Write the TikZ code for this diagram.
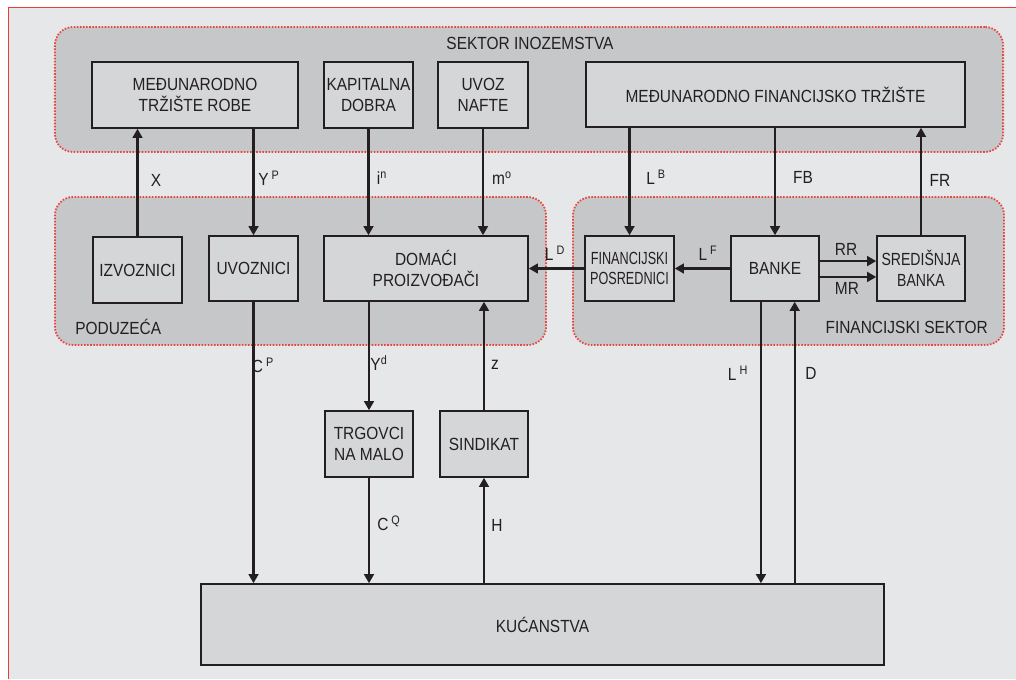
\documentclass[tikz,border=0pt]{standalone}
\usepackage{fontspec}
\setmainfont{Liberation Sans}[FakeStretch=0.88]
\newfontfamily\narrowsans{Liberation Sans}[FakeStretch=0.72]
\newfontfamily\semisans{Liberation Sans}[FakeStretch=0.8]
\usepackage{tikz}
\usetikzlibrary{arrows.meta}
\definecolor{ink}{HTML}{231F20}
\definecolor{pagegray}{HTML}{E6E7E9}
\definecolor{secgray}{HTML}{C6C7C9}
\definecolor{cellgray}{HTML}{D5D6D8}
\definecolor{dotred}{HTML}{E8463F}
\definecolor{framered}{HTML}{EE3B33}
\tikzstyle{sector} = [fill=secgray, draw=dotred, line width=1.3pt, dash pattern=on 1.1pt off 1.1pt, rounded corners=13pt, inner sep=0pt]
\tikzstyle{box} = [draw=ink, fill=cellgray, line width=1.1pt, align=center, inner sep=0pt, text=ink]
\tikzstyle{lab} = [text=ink, inner sep=0pt]
\tikzstyle{flow} = [draw=ink, line width=1.5pt, -{Triangle[length=6.5pt,width=7pt]}]

\begin{document}
\begin{tikzpicture}[x=0.025cm, y=-0.025cm, every node/.style={font=\fontsize{12.5}{14.5}\selectfont}]
    \useasboundingbox (0,0) rectangle (1016,679);
    \fill[white] (0,0) rectangle (1016,679);
    \fill[pagegray] (8.5,7.5) rectangle (1016,679);
    \draw[framered, line width=1.4pt] (8.5,679) -- (8.5,7.5) -- (1016,7.5);

    \node[sector, minimum width=23.7cm, minimum height=3.125cm](ino) at (529,89.5){};
    \node[sector, minimum width=12.275cm, minimum height=3.7cm](pod) at (300.5,271){};
    \node[sector, minimum width=10.775cm, minimum height=3.7cm](fin) at (788.5,271){};
    \node[lab](tino) at (530,43){SEKTOR INOZEMSTVA};
    \node[lab, anchor=west](tpod) at (75,327){PODUZEĆA};
    \node[lab, anchor=east](tfin) at (988,327){FINANCIJSKI SEKTOR};

    \node[box, minimum width=5.15cm, minimum height=1.65cm](mtr) at (195,95){MEĐUNARODNO\\TRŽIŠTE ROBE};
    \node[box, minimum width=2.225cm, minimum height=1.65cm](kd) at (368.5,95){KAPITALNA\\DOBRA};
    \node[box, minimum width=2.25cm, minimum height=1.65cm](nafta) at (483,95){UVOZ\\NAFTE};
    \node[box, minimum width=9.475cm, minimum height=1.625cm](mft) at (775.5,94.5){MEĐUNARODNO FINANCIJSKO TRŽIŠTE};

    \node[box, minimum width=2.225cm, minimum height=1.65cm](izv) at (137.5,270){IZVOZNICI};
    \node[box, minimum width=2.225cm, minimum height=1.625cm](uvz) at (253.5,268.5){UVOZNICI};
    \node[box, minimum width=5.1cm, minimum height=1.625cm](dp) at (426,268.5){DOMAĆI\\PROIZVOĐAČI};
    \node[box, minimum width=2.225cm, minimum height=1.625cm, font=\narrowsans\fontsize{12.5}{14.5}\selectfont](fp) at (629.5,268.5){FINANCIJSKI\\POSREDNICI};
    \node[box, minimum width=2.2cm, minimum height=1.625cm](banke) at (775,268.5){BANKE};
    \node[box, minimum width=2.2cm, minimum height=1.625cm, font=\semisans\fontsize{12.5}{14.5}\selectfont](sb) at (921,268.5){SREDIŠNJA\\BANKA};

    \node[box, minimum width=2.2cm, minimum height=1.65cm](trg) at (369,444){TRGOVCI\\NA MALO};
    \node[box, minimum width=2.2cm, minimum height=1.65cm](sind) at (484,444){SINDIKAT};
    \node[box, minimum width=17.075cm, minimum height=2.025cm](kuc) at (542.5,624.5){KUĆANSTVA};

    \draw[flow](izv.north)--(izv.north |- mtr.south);
    \draw[flow](uvz.north |- mtr.south)--(uvz.north);
    \draw[flow](kd.south)--(kd.south |- dp.north);
    \draw[flow](nafta.south)--(nafta.south |- dp.north);
    \draw[flow](fp.north |- mft.south)--(fp.north);
    \draw[flow](banke.north |- mft.south)--(banke.north);
    \draw[flow](sb.north)--(sb.north |- mft.south);
    \draw[flow](fp.west)--(dp.east);
    \draw[flow](banke.west)--(fp.east);
    \draw[flow]([yshift=5.3pt]banke.east)--([yshift=5.3pt]sb.west);
    \draw[flow]([yshift=-6pt]banke.east)--([yshift=-6pt]sb.west);
    \draw[flow](uvz.south)--(uvz.south |- kuc.north);
    \draw[flow](dp.south -| trg.north)--(trg.north);
    \draw[flow](sind.north)--(sind.north |- dp.south);
    \draw[flow](trg.south)--(trg.south |- kuc.north);
    \draw[flow](sind.south |- kuc.north)--(sind.south);
    \draw[flow]([xshift=-10pt]banke.south)--([xshift=-10pt]banke.south |- kuc.north);
    \draw[flow]([xshift=14pt]banke.south |- kuc.north)--([xshift=14pt]banke.south);

    \node[lab](lx) at (156,180){X};
    \node[lab](lyp) at (269,178){Y\,\textsuperscript{P}};
    \node[lab](lin) at (382,178){i\textsuperscript{n}};
    \node[lab](lmo) at (502,178){m\textsuperscript{o}};
    \node[lab](llb) at (656,177){L\,\textsuperscript{B}};
    \node[lab](lfb) at (803,177){FB};
    \node[lab](lfr) at (940,180){FR};
    \node[lab](lld) at (555,253){L\,\textsuperscript{D}};
    \node[lab](llf) at (708,253){L\,\textsuperscript{F}};
    \node[lab](lrr) at (846,249){RR};
    \node[lab](lmr) at (847,288){MR};
    \node[lab](lcp) at (263,365){C\,\textsuperscript{P}};
    \node[lab](lyd) at (379,363){Y\textsuperscript{d}};
    \node[lab](lz) at (495,365){z};
    \node[lab](llh) at (738,373){L\,\textsuperscript{H}};
    \node[lab](ld) at (811,373){D};
    \node[lab](lcq) at (389,523){C\,\textsuperscript{Q}};
    \node[lab](lh) at (497,525){H};
  \end{tikzpicture}
\end{document}
